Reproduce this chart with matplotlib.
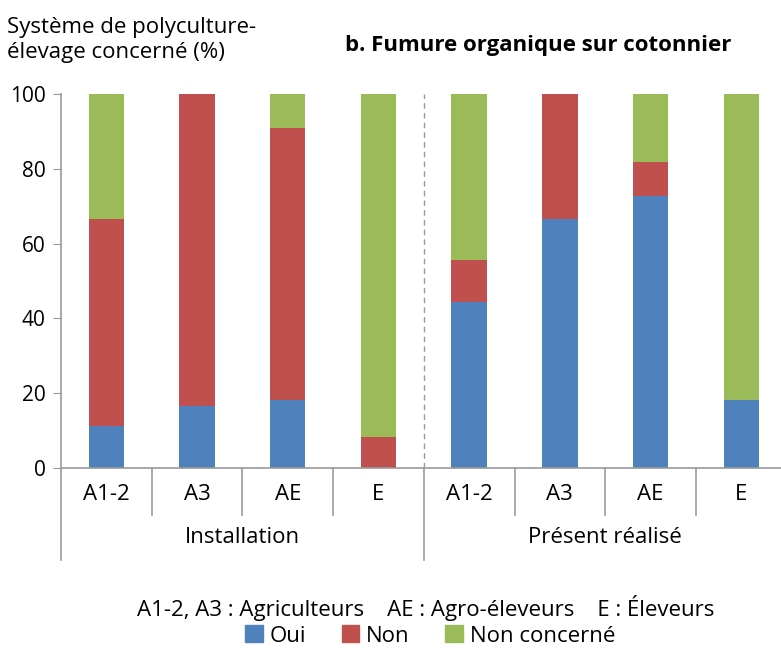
import matplotlib.pyplot as plt
from matplotlib.patches import Patch

plt.rcParams['font.family'] = ['Open Sans', 'DejaVu Sans']

# data
groups = ['Installation', 'Présent réalisé']
categories = ['A1-2', 'A3', 'AE', 'E', 'A1-2', 'A3', 'AE', 'E']
oui = [11.1, 16.7, 18.2, 0.0, 44.4, 66.7, 72.7, 18.2]
non = [55.6, 83.3, 72.7, 8.3, 11.2, 33.3, 9.1, 0.0]
non_concerne = [33.3, 0.0, 9.1, 91.7, 44.4, 0.0, 18.2, 81.8]

blue = '#4F81BD'
red = '#C0504D'
green = '#9BBB59'
grey = '#9a9a9a'
fs = 16

fig = plt.figure(figsize=(7.81, 6.49), dpi=100)
# axes deliberately runs past the right edge, like the cropped original
ax = fig.add_axes([61 / 781, 1 - 468 / 649, 725.6 / 781, 374 / 649])

x = list(range(len(categories)))
w = 0.39
bottom2 = [a + b for a, b in zip(oui, non)]
ax.bar(x, oui, w, color=blue)
ax.bar(x, non, w, bottom=oui, color=red)
ax.bar(x, non_concerne, w, bottom=bottom2, color=green)

ax.set_xlim(-0.5, len(categories) - 0.5)
ax.set_ylim(0, 100)
ax.set_yticks([0, 20, 40, 60, 80, 100])
ax.tick_params(axis='y', length=6, color=grey, labelsize=15, pad=5)
ax.set_xticks([])
for s in ['top', 'right']:
    ax.spines[s].set_visible(False)
for s in ['left', 'bottom']:
    ax.spines[s].set_color(grey)
    ax.spines[s].set_linewidth(1.2)

# dashed separator between the two periods
ax.axvline(3.5, color=grey, ls=(0, (4, 3)), lw=1)

tr = ax.get_xaxis_transform()
for i, c in enumerate(categories):
    ax.text(i, -0.072, c, transform=tr, ha='center', va='center', fontsize=fs)
for i in [0.5, 1.5, 2.5, 4.5, 5.5, 6.5]:
    ax.plot([i, i], [0, -0.126], transform=tr, color=grey, lw=1.2, clip_on=False)
for i in [-0.5, 3.5, 7.5]:
    ax.plot([i, i], [0, -0.246], transform=tr, color=grey, lw=1.2, clip_on=False)
for k, g in enumerate(groups):
    ax.text(1.5 + 4 * k, -0.187, g, transform=tr, ha='center', va='center', fontsize=fs)

fig.text(7 / 781, 1 - 40 / 649, 'Système de polyculture-\nélevage concerné (%)',
         ha='left', va='center', fontsize=fs, linespacing=1.3)
fig.text(538 / 781, 1 - 45 / 649, 'b. Fumure organique sur cotonnier',
         ha='center', va='center', fontsize=fs, fontweight='bold')

fig.text(426 / 781, 1 - 608 / 649,
         'A1-2, A3 : Agriculteurs    AE : Agro-éleveurs    E : Éleveurs',
         ha='center', va='center', fontsize=fs)
handles = [Patch(color=blue, label='Oui'), Patch(color=red, label='Non'),
           Patch(color=green, label='Non concerné')]
fig.legend(handles=handles, loc='center', bbox_to_anchor=(430 / 781, 1 - 636 / 649),
           ncol=3, frameon=False, fontsize=fs, handlelength=0.8, handleheight=0.8,
           handletextpad=0.3, columnspacing=1.6, borderpad=0)

fig.savefig('out.png', dpi=100)
